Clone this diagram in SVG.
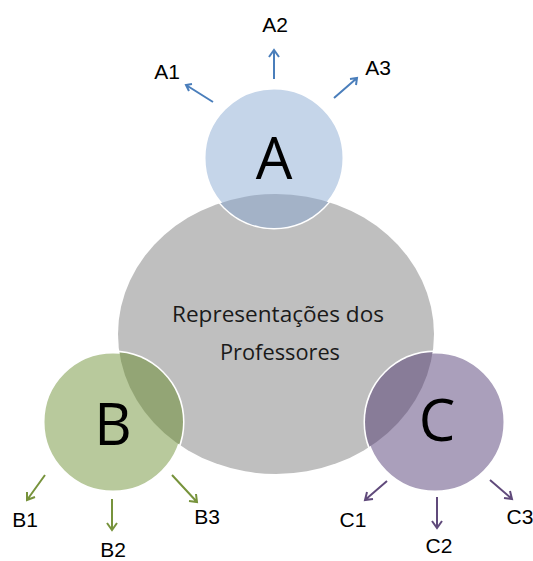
<svg xmlns="http://www.w3.org/2000/svg" width="533" height="561" viewBox="0 0 533 561">
<style>
.lbl{font-family:"Liberation Sans","Open Sans",sans-serif;font-size:21px;fill:#000;text-anchor:middle}
.big{font-family:"Open Sans","Liberation Sans",sans-serif;font-size:58px;fill:#000;text-anchor:middle}
.ctr{font-family:"Open Sans","Liberation Sans",sans-serif;font-size:21px;fill:#1a1a1a;text-anchor:middle}
.a{stroke:#4a7ebb;stroke-width:2;fill:none}
.b{stroke:#77933c;stroke-width:2;fill:none}
.c{stroke:#604a7b;stroke-width:2;fill:none}
.ring{stroke:#fff;stroke-width:3}
</style>
<defs>
<clipPath id="clipE"><ellipse cx="276" cy="334" rx="158" ry="140"/></clipPath>
</defs>
<rect width="533" height="561" fill="#fff"/>
<g id="center">
<ellipse cx="276" cy="334" rx="158" ry="140" fill="#bfbfbf"/>
<text class="ctr" x="278" y="322" textLength="212" lengthAdjust="spacingAndGlyphs">Representações dos</text>
<text class="ctr" x="280" y="360" textLength="120" lengthAdjust="spacingAndGlyphs">Professores</text>
</g>
<g id="nodeA">
<circle class="ring" cx="274" cy="158" r="70" fill="#c5d5e9"/>
<circle cx="274" cy="158" r="70" fill="#a3b2c7" clip-path="url(#clipE)"/>
<text class="big" x="274" y="179">A</text>
</g>
<g id="nodeB">
<circle class="ring" cx="113" cy="422" r="70" fill="#b8c99c"/>
<circle cx="113" cy="422" r="70" fill="#93a575" clip-path="url(#clipE)"/>
<text class="big" x="113" y="445">B</text>
</g>
<g id="nodeC">
<circle class="ring" cx="435" cy="422" r="70" fill="#aa9fbb"/>
<circle cx="435" cy="422" r="70" fill="#887c98" clip-path="url(#clipE)"/>
<text class="big" x="437" y="441">C</text>
</g>
<g id="connectors">
<path class="a" d="M213,102 L186,85 M192,84 L186,85 L189,91"/>
<path class="a" d="M274,79 L274,50 M269,57 L274,50 L279,57"/>
<path class="a" d="M334,98 L357,78 M350,79 L357,78 L356,85"/>
<path class="b" d="M45,475 L27,500 M27,492 L27,500 L35,497"/>
<path class="b" d="M112,499 L112,530 M107,523 L112,530 L117,523"/>
<path class="b" d="M172,475 L197,502 M196,494 L197,502 L189,501"/>
<path class="c" d="M387,481 L365,500 M367,492 L365,500 L373,499"/>
<path class="c" d="M437,497 L437,528 M432,521 L437,528 L442,521"/>
<path class="c" d="M490,480 L512,499 M510,491 L512,499 L504,498"/>
</g>
<g id="labels">
<text class="lbl" x="167" y="79">A1</text>
<text class="lbl" x="275" y="32">A2</text>
<text class="lbl" x="378" y="75">A3</text>
<text class="lbl" x="25" y="527">B1</text>
<text class="lbl" x="113" y="557">B2</text>
<text class="lbl" x="207" y="524">B3</text>
<text class="lbl" x="353" y="527">C1</text>
<text class="lbl" x="439" y="553">C2</text>
<text class="lbl" x="520" y="524">C3</text>
</g>
</svg>
